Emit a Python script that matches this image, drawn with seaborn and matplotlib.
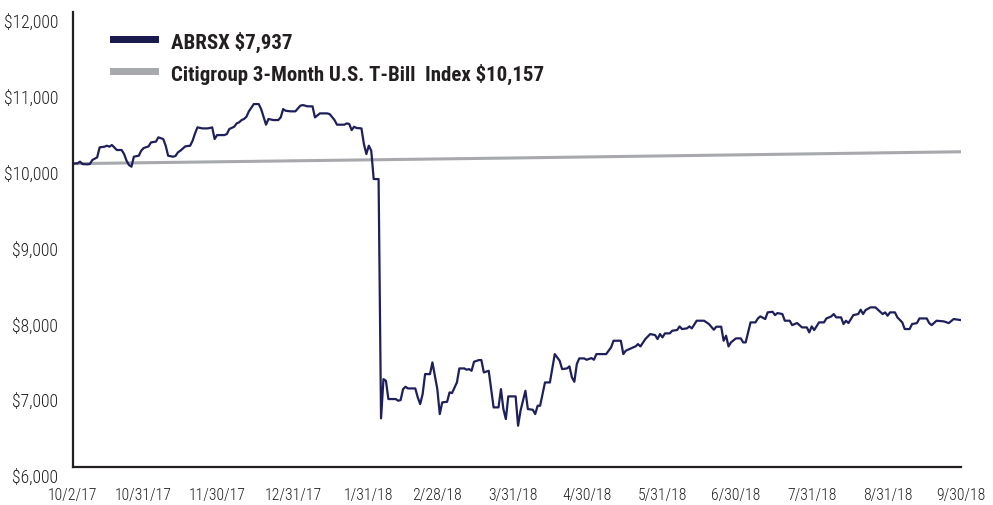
import numpy as np
import pandas as pd
import matplotlib
matplotlib.use("Agg")
import matplotlib.pyplot as plt
import seaborn as sns
from matplotlib import font_manager as fm
from matplotlib.transforms import ScaledTranslation
from matplotlib.patches import Rectangle

# ---------------- data ----------------
fund_dates = [
    "2017-10-02", "2017-10-04", "2017-10-05", "2017-10-06", "2017-10-08", "2017-10-09", "2017-10-10",
    "2017-10-12", "2017-10-13", "2017-10-15", "2017-10-16", "2017-10-17", "2017-10-18", "2017-10-19",
    "2017-10-20", "2017-10-22", "2017-10-23", "2017-10-24", "2017-10-25", "2017-10-26", "2017-10-27",
    "2017-10-29", "2017-10-30", "2017-10-31", "2017-11-02", "2017-11-03", "2017-11-05", "2017-11-06",
    "2017-11-08", "2017-11-09", "2017-11-10", "2017-11-12", "2017-11-13", "2017-11-14", "2017-11-15",
    "2017-11-17", "2017-11-19", "2017-11-20", "2017-11-21", "2017-11-22", "2017-11-24", "2017-11-26",
    "2017-11-27", "2017-11-28", "2017-11-29", "2017-11-30", "2017-12-03", "2017-12-04", "2017-12-05",
    "2017-12-07", "2017-12-08", "2017-12-09", "2017-12-10", "2017-12-11", "2017-12-12", "2017-12-13",
    "2017-12-15", "2017-12-17", "2017-12-18", "2017-12-20", "2017-12-21", "2017-12-23", "2017-12-25",
    "2017-12-26", "2017-12-27", "2017-12-28", "2017-12-30", "2018-01-01", "2018-01-03", "2018-01-04",
    "2018-01-06", "2018-01-08", "2018-01-09", "2018-01-11", "2018-01-14", "2018-01-15", "2018-01-17",
    "2018-01-18", "2018-01-21", "2018-01-22", "2018-01-23", "2018-01-24", "2018-01-25", "2018-01-26",
    "2018-01-28", "2018-01-29", "2018-01-30", "2018-01-31", "2018-02-01", "2018-02-02", "2018-02-04",
    "2018-02-05", "2018-02-06", "2018-02-07", "2018-02-08", "2018-02-11", "2018-02-12", "2018-02-13",
    "2018-02-14", "2018-02-15", "2018-02-16", "2018-02-19", "2018-02-20", "2018-02-21", "2018-02-22",
    "2018-02-23", "2018-02-25", "2018-02-26", "2018-02-28", "2018-03-01", "2018-03-02", "2018-03-04",
    "2018-03-05", "2018-03-06", "2018-03-08", "2018-03-09", "2018-03-11", "2018-03-12", "2018-03-13",
    "2018-03-14", "2018-03-15", "2018-03-17", "2018-03-18", "2018-03-19", "2018-03-21", "2018-03-23",
    "2018-03-25", "2018-03-26", "2018-03-27", "2018-03-28", "2018-03-29", "2018-04-01", "2018-04-02",
    "2018-04-03", "2018-04-05", "2018-04-06", "2018-04-08", "2018-04-09", "2018-04-10", "2018-04-11",
    "2018-04-13", "2018-04-15", "2018-04-17", "2018-04-19", "2018-04-20", "2018-04-22", "2018-04-23",
    "2018-04-24", "2018-04-25", "2018-04-26", "2018-04-27", "2018-04-29", "2018-04-30", "2018-05-02",
    "2018-05-03", "2018-05-04", "2018-05-08", "2018-05-10", "2018-05-11", "2018-05-14", "2018-05-15",
    "2018-05-16", "2018-05-19", "2018-05-20", "2018-05-21", "2018-05-22", "2018-05-24", "2018-05-26",
    "2018-05-28", "2018-05-29", "2018-05-30", "2018-05-31", "2018-06-01", "2018-06-03", "2018-06-04",
    "2018-06-06", "2018-06-07", "2018-06-08", "2018-06-10", "2018-06-11", "2018-06-12", "2018-06-14",
    "2018-06-17", "2018-06-19", "2018-06-21", "2018-06-22", "2018-06-24", "2018-06-25", "2018-06-26",
    "2018-06-27", "2018-06-28", "2018-06-30", "2018-07-02", "2018-07-03", "2018-07-04", "2018-07-06",
    "2018-07-08", "2018-07-09", "2018-07-10", "2018-07-12", "2018-07-13", "2018-07-15", "2018-07-16",
    "2018-07-17", "2018-07-19", "2018-07-20", "2018-07-22", "2018-07-23", "2018-07-25", "2018-07-26",
    "2018-07-27", "2018-07-29", "2018-07-30", "2018-07-31", "2018-08-01", "2018-08-03", "2018-08-05",
    "2018-08-06", "2018-08-08", "2018-08-09", "2018-08-10", "2018-08-12", "2018-08-13", "2018-08-14",
    "2018-08-15", "2018-08-17", "2018-08-19", "2018-08-20", "2018-08-21", "2018-08-22", "2018-08-24",
    "2018-08-26", "2018-08-28", "2018-08-29", "2018-08-30", "2018-08-31", "2018-09-01", "2018-09-03",
    "2018-09-04", "2018-09-06", "2018-09-07", "2018-09-09", "2018-09-10", "2018-09-12", "2018-09-13",
    "2018-09-16", "2018-09-17", "2018-09-18", "2018-09-20", "2018-09-23", "2018-09-25", "2018-09-27",
    "2018-09-30",
]
fund_values = [
    10000, 10005, 10026, 9995, 9991, 9995, 10048,
    10083, 10215, 10224, 10237, 10224, 10246, 10215,
    10180, 10180, 10127, 10039, 9982, 9960, 10092,
    10105, 10171, 10206, 10228, 10281, 10290, 10347,
    10325, 10237, 10105, 10092, 10101, 10149, 10171,
    10228, 10237, 10303, 10400, 10479, 10465, 10465,
    10470, 10479, 10325, 10377, 10377, 10391, 10457,
    10487, 10531, 10545, 10575, 10589, 10619, 10690,
    10786, 10786, 10720, 10514, 10589, 10575, 10575,
    10610, 10720, 10698, 10690, 10690, 10764, 10773,
    10756, 10756, 10610, 10663, 10663, 10654, 10575,
    10514, 10514, 10531, 10523, 10443, 10487, 10470,
    10465, 10259, 10127, 10237, 10171, 9797, 9797,
    6641, 7159, 7137, 6896, 6896, 6874, 6882,
    7027, 7058, 7036, 7036, 6918, 6830, 6962,
    7225, 7225, 7379, 7027, 6698, 6852, 6860,
    6984, 6975, 7115, 7300, 7300, 7283, 7291,
    7269, 7388, 7410, 7410, 7247, 7269, 6786,
    6786, 7027, 6764, 6632, 6931, 6931, 6544,
    6742, 7005, 6764, 6755, 6698, 6808, 6808,
    7115, 7115, 7489, 7401, 7291, 7300, 7327,
    7181, 7124, 7357, 7432, 7432, 7414, 7436,
    7414, 7489, 7489, 7577, 7665, 7665, 7489,
    7533, 7577, 7590, 7621, 7590, 7687, 7753,
    7740, 7687, 7753, 7709, 7762, 7762, 7797,
    7806, 7854, 7819, 7828, 7854, 7828, 7929,
    7929, 7885, 7810, 7850, 7850, 7665, 7731,
    7590, 7643, 7696, 7696, 7643, 7643, 7907,
    7907, 7959, 7986, 7951, 8039, 8047, 8003,
    8030, 8017, 7929, 7929, 7871, 7898, 7871,
    7841, 7841, 7775, 7854, 7806, 7907, 7907,
    7959, 7986, 8017, 7973, 7973, 7885, 7929,
    7898, 8003, 8017, 8074, 8017, 8069, 8105,
    8105, 8047, 8017, 8039, 7995, 8039, 8039,
    7973, 7907, 7819, 7819, 7885, 7898, 7959,
    7959, 7898, 7871, 7929, 7920, 7898, 7951,
    7937,
]
bill_dates = ["2017-10-02", "2018-03-31", "2018-09-30"]
bill_values = [10000, 10075, 10157]

tick_dates = ["2017-10-02", "2017-10-31", "2017-11-30", "2017-12-31", "2018-01-31", "2018-02-28",
              "2018-03-31", "2018-04-30", "2018-05-31", "2018-06-30", "2018-07-31", "2018-08-31",
              "2018-09-30"]
tick_labels = ["10/2/17", "10/31/17", "11/30/17", "12/31/17", "1/31/18", "2/28/18", "3/31/18",
               "4/30/18", "5/31/18", "6/30/18", "7/31/18", "8/31/18", "9/30/18"]
y_ticks = [6000, 7000, 8000, 9000, 10000, 11000, 12000]
y_tick_labels = ["$6,000", "$7,000", "$8,000", "$9,000", "$10,000", "$11,000", "$12,000"]

fund_label = "ABRSX $7,937"
bill_label = "Citigroup 3-Month U.S. T-Bill  Index $10,157"

NAVY = "#1f1f5c"
GRAY = "#a7a9ac"
INK = "#231f20"

# ---------------- font: pick a narrow sans if one is installed ----------------
sns.set_theme(style="white")
ttf = fm.fontManager.ttflist
pref = ["Liberation Sans Narrow", "Roboto Condensed", "Open Sans Condensed",
        "Noto Sans Condensed", "Noto Sans SemiCondensed", "DejaVu Sans Condensed",
        "DejaVu Sans", "Noto Sans", "Liberation Sans"]
family, stretch = "DejaVu Sans", "normal"
for name in pref:
    entries = [f for f in ttf if f.name == name]
    if not entries:
        continue
    narrow = [f for f in entries if str(f.stretch) != "normal"]
    if "Narrow" in name or "Condensed" in name:
        family, stretch = name, (narrow[0].stretch if narrow else "normal")
        break
    if narrow:
        family, stretch = name, narrow[0].stretch
        break
plt.rcParams["font.family"] = [family, "DejaVu Sans"]
plt.rcParams["font.stretch"] = stretch

# ---------------- plot ----------------
W, H = 993, 506
fig = plt.figure(figsize=(W / 100, H / 100), dpi=100)
renderer = fig.canvas.get_renderer()


def fit_size(text, target_px, weight="normal", base=12.0, cap=None):
    t = fig.text(0, 0, text, fontsize=base, fontweight=weight)
    w = t.get_window_extent(renderer).width
    t.remove()
    s = base * target_px / w
    return min(s, cap) if cap else s


tick_size = fit_size("$12,000", 55, weight="light", cap=13)
xtick_size = 0.5 * (fit_size("10/31/17", 50, weight="light", cap=13) + tick_size)
leg_size = fit_size(bill_label, 372, weight="bold", cap=16)

left, right, top, bottom = 72.7, 961, 13, 468
ax = fig.add_axes([left / W, 1 - bottom / H, (right - left) / W, (bottom - top) / H])

df_fund = pd.DataFrame({"date": pd.to_datetime(fund_dates), "value": fund_values})
df_bill = pd.DataFrame({"date": pd.to_datetime(bill_dates), "value": bill_values})

sns.lineplot(data=df_bill, x="date", y="value", color=GRAY, lw=2.2, ax=ax)
sns.lineplot(data=df_fund, x="date", y="value", color=NAVY, lw=1.6, ax=ax)

ax.set_xlim(pd.Timestamp("2017-10-02"), pd.Timestamp("2018-09-30"))
ax.set_ylim(6000, 12000)
ax.set_xlabel("")
ax.set_ylabel("")

ax.set_xticks(pd.to_datetime(tick_dates))
ax.set_xticklabels(tick_labels, fontweight="light")
ax.set_yticks(y_ticks)
ax.set_yticklabels(y_tick_labels, fontweight="light")

for s in ["top", "right"]:
    ax.spines[s].set_visible(False)
for s in ["left", "bottom"]:
    ax.spines[s].set_color(INK)
    ax.spines[s].set_linewidth(1.6)

ax.tick_params(axis="x", direction="in", length=8.5, width=1.1, color=INK,
               pad=14.5, labelsize=xtick_size, labelcolor=INK)
ax.tick_params(axis="y", direction="in", length=16.5, width=1.6, color=INK,
               pad=10.5, labelsize=tick_size, labelcolor=INK)
shift = ScaledTranslation(0, -8 / 100, fig.dpi_scale_trans)
for lab in ax.get_yticklabels():
    lab.set_transform(lab.get_transform() + shift)


# legend (drawn in figure pixels)
def px(x, y):
    return x / W, 1 - y / H


for (y0, color, label) in [(37, "#1a1a4e", fund_label), (69, GRAY, bill_label)]:
    fx, fy = px(110, y0 + 7)
    fig.patches.append(Rectangle((fx, fy), 49 / W, 7 / H, transform=fig.transFigure,
                                 facecolor=color, edgecolor="none"))
    tx, ty = px(171, y0 + 5)
    fig.text(tx, ty, label, fontsize=leg_size, fontweight="bold", color=INK,
             ha="left", va="center")

fig.savefig("out.png", dpi=100)
